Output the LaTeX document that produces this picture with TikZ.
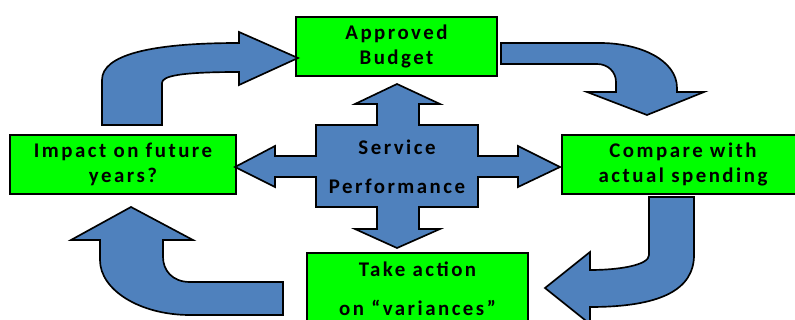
\documentclass[tikz,border=0pt]{standalone}
\usepackage{fontspec}
\setmainfont{Carlito}[LetterSpace=12]
\usepackage{xcolor}
\usetikzlibrary{positioning}

\definecolor{boxgreen}{RGB}{0,255,0}
\definecolor{arrowblue}{RGB}{79,129,189}

\begin{document}
\begin{tikzpicture}[x=0.03cm, y=-0.03cm,
		  every node/.style={font=\bfseries\fontsize{17.8}{22}\selectfont, align=center, text=black},
          stage/.style={draw, fill=boxgreen, line width=0.5mm, inner sep=0pt},
          wide/.style={font=\bfseries\fontsize{17.8}{33}\selectfont},
          flow/.style={draw, fill=arrowblue, line width=0.5mm, line join=miter},
		]
            \useasboundingbox (0,0) rectangle (795,320);
            % the four stages
			\draw node[stage, minimum width=6.03cm, minimum height=1.77cm] (budget) at (396.5,46.5)
                {Approved\\Budget};
			\draw node[stage, minimum width=7.26cm, minimum height=1.77cm] (compare) at (683,164.5)
                {Compare with\\actual spending};
			\draw node[stage, wide, minimum width=6.63cm, minimum height=2.13cm] (action) at (417.5,288.5)
                {Take action\\on “variances”};
			\draw node[stage, minimum width=6.78cm, minimum height=1.77cm] (impact) at (123,164.5)
                {Impact on future\\years?};

            % the cycle of bent arrows
            \draw[flow] (102,125) -- (102,80) .. controls (102,55) and (150,43) .. (239,43)
                -- (239,32) -- (298,58) -- (239,85) -- (239,72)
                .. controls (180,72) and (162,76) .. (162,83) -- (162,125) -- cycle;
            \draw[flow] (501,43) -- (600,43) .. controls (640,43) and (677,60) .. (677,88)
                -- (677,92) -- (704,92) -- (647,115) -- (587,92) -- (616,92) -- (616,82)
                .. controls (616,72) and (608,64) .. (597,64) -- (501,64) -- cycle;
            \draw[flow] (649,197) -- (694,197) -- (694,255) .. controls (694,290) and (660,307) .. (590,307)
                -- (590,324) -- (545,288) -- (590,252) -- (590,270)
                .. controls (620,270) and (649,265) .. (649,255) -- cycle;
            \draw[flow] (283,282) -- (283,315) -- (190,315) .. controls (140,315) and (100,290) .. (100,260)
                -- (100,240) -- (71,240) -- (131,207) -- (193,240) -- (163,240) -- (163,257)
                .. controls (163,270) and (172,282) .. (190,282) -- cycle;

            % the cross in the middle
            \draw[flow] (397,84) -- (440,104) -- (419,104) -- (419,125) -- (478,125) -- (478,156)
                -- (518,156) -- (518,146) -- (560,167) -- (518,187) -- (518,177) -- (478,177)
                -- (478,207) -- (419,207) -- (419,229) -- (440,229) -- (397,248) -- (355,229)
                -- (377,229) -- (377,207) -- (316,207) -- (316,177) -- (275,177) -- (275,187)
                -- (235,167) -- (275,146) -- (275,156) -- (316,156) -- (316,125) -- (377,125)
                -- (377,104) -- (355,104) -- cycle;
            \node[wide] (perf) at (397,166.5) {Service\\Performance};
		 \end{tikzpicture}
\end{document}
